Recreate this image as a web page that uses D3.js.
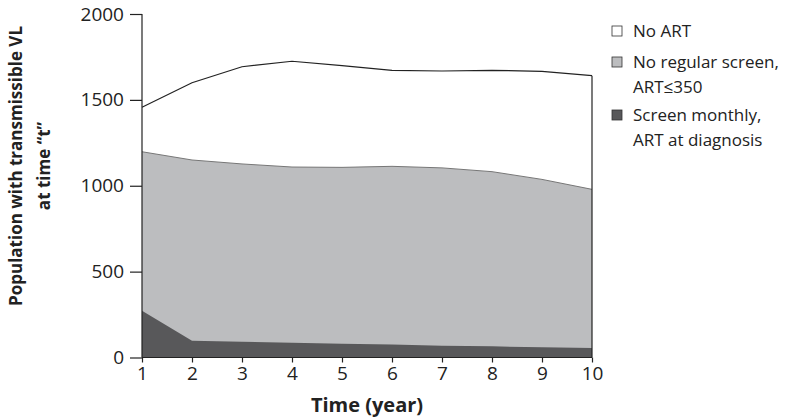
<!DOCTYPE html>
<html><head><meta charset="utf-8">
<script src="https://cdn.jsdelivr.net/npm/d3@7"></script>
<style>body{margin:0;background:#fff;} svg{display:block;font-family:"Open Sans",sans-serif;}</style>
</head><body><svg id="c" width="786" height="419"></svg>
<script>
const years = [1,2,3,4,5,6,7,8,9,10];
const noART = [1457,1600,1693,1725,1699,1672,1668,1672,1666,1641];
const noRegularScreen = [1198,1150,1127,1109,1107,1113,1104,1082,1037,979];
const screenMonthly = [272,98,92,86,80,75,69,65,59,55];
const yTicks = [0,500,1000,1500,2000];
const legendLabels = [["No ART"],["No regular screen,","ART\u2264350"],["Screen monthly,","ART at diagnosis"]];
const colors = ["#ffffff","#bcbdbf","#58585a"];

const svg = d3.select("#c");
const x = d3.scaleLinear().domain([1,10]).range([142,592]);
const y = d3.scaleLinear().domain([0,2000]).range([357.5,14]);

const series = [noART, noRegularScreen, screenMonthly];
const area = d3.area().x((d,i)=>x(years[i])).y0(y(0)).y1(d=>y(d));
const line = d3.line().x((d,i)=>x(years[i])).y(d=>y(d));

series.forEach((s,k)=>{
  svg.append("path").attr("d",area(s)).attr("fill",colors[k]);
});
svg.append("path").attr("d",line(noART)).attr("fill","none").attr("stroke","#222").attr("stroke-width",1.2);
svg.append("path").attr("d",line(noRegularScreen)).attr("fill","none").attr("stroke","#777").attr("stroke-width",1);
svg.append("line").attr("x1",x(10)).attr("x2",x(10)).attr("y1",y(noART[9])).attr("y2",y(0)).attr("stroke","#222").attr("stroke-width",1.2);

const ya = svg.append("g").attr("transform",`translate(${x(1)},0)`)
  .call(d3.axisLeft(y).tickValues(yTicks).tickSize(12).tickPadding(6).tickFormat(d3.format("d")));
ya.select(".domain").attr("d",`M0,${y(0)}V${y(2000)}`).attr("stroke","#222").attr("stroke-width",1.2);
ya.selectAll(".tick line").attr("stroke","#222").attr("stroke-width",1.2);
ya.selectAll("text").attr("font-size",19).attr("fill","#222").attr("font-family","Open Sans");

const xa = svg.append("g").attr("transform",`translate(0,${y(0)})`)
  .call(d3.axisBottom(x).tickValues(years).tickSize(5).tickPadding(4).tickFormat(d3.format("d")));
xa.select(".domain").attr("d",`M${x(1)},0H${x(10)}`).attr("stroke","#222").attr("stroke-width",1.2);
xa.selectAll(".tick line").attr("stroke","#222").attr("stroke-width",1.2);
xa.selectAll("text").attr("font-size",19).attr("fill","#222").attr("font-family","Open Sans");

svg.append("text").attr("x",367).attr("y",412).attr("text-anchor","middle")
  .attr("font-weight","bold").attr("font-size",20).attr("fill","#222").text("Time (year)");

const yl = svg.append("text").attr("transform","translate(0,166) rotate(-90)")
  .attr("text-anchor","middle").attr("font-weight","bold").attr("font-size",17).attr("fill","#222");
yl.append("tspan").attr("x",0).attr("y",22).text("Population with transmissible VL");
yl.append("tspan").attr("x",0).attr("y",50).text("at time \u201Ct\u201D");

const legY = [31, 62, 115];
legendLabels.forEach((lab,i)=>{
  svg.append("rect").attr("x",612).attr("y",legY[i]-5).attr("width",10).attr("height",10)
    .attr("fill",colors[i]).attr("stroke","#333").attr("stroke-width",0.8);
  lab.forEach((t,j)=>{
    svg.append("text").attr("x",633).attr("y",legY[i]+6+j*25).attr("font-size",17).attr("fill","#222").text(t);
  });
});
</script></body></html>
